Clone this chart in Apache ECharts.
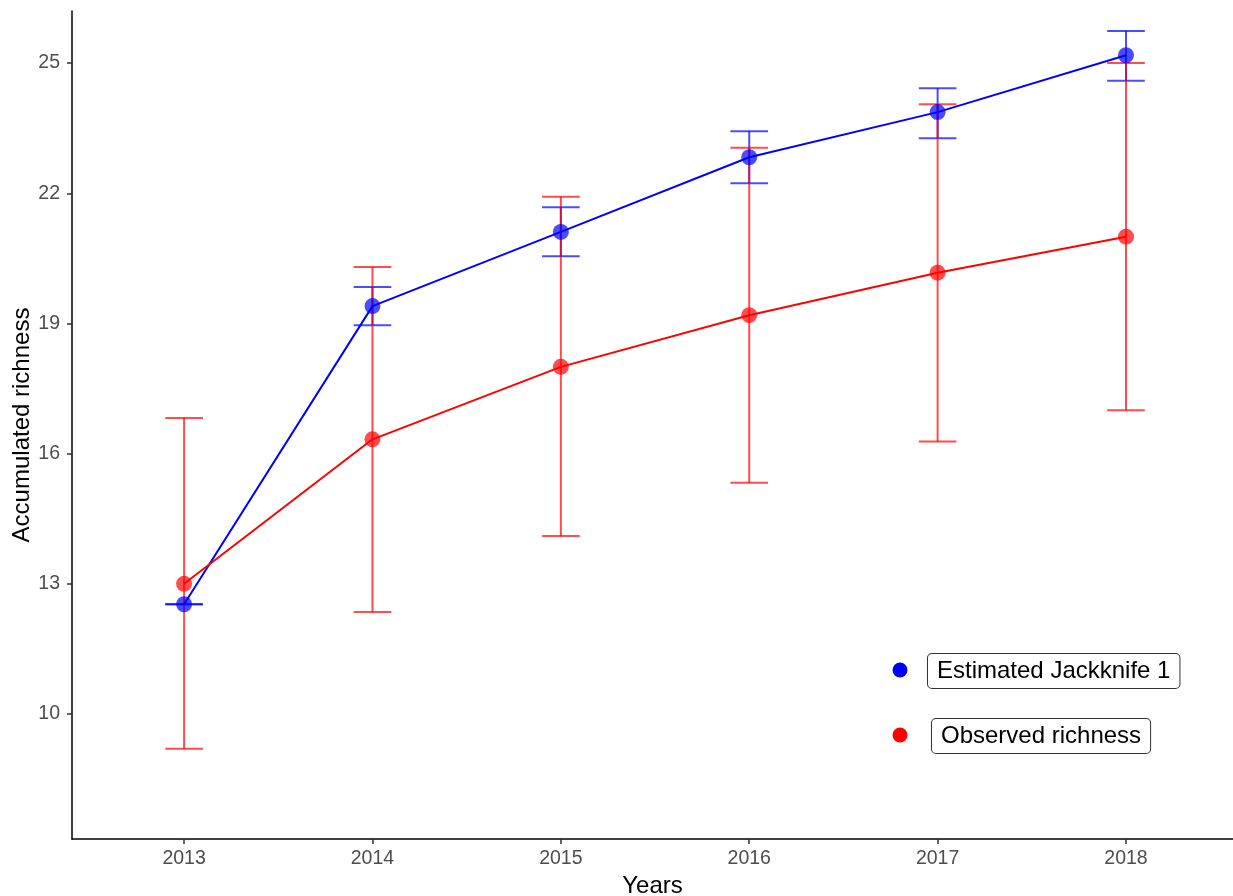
<!DOCTYPE html>
<html>
<head>
<meta charset="utf-8">
<script src="https://cdn.jsdelivr.net/npm/echarts@6/dist/echarts.min.js"></script>
<style>
html,body{margin:0;padding:0;background:#fff;}
#chart{width:1233px;height:896px;}
</style>
</head>
<body>
<div id="chart"></div>
<script>
const years = [2013, 2014, 2015, 2016, 2017, 2018];
const jackknife = [12.53, 19.40, 21.11, 22.83, 23.87, 25.18];
const jackLow = [12.53, 18.96, 20.55, 22.23, 23.27, 24.59];
const jackHigh = [12.53, 19.84, 21.68, 23.43, 24.42, 25.74];
const observed = [13.0, 16.33, 18.0, 19.19, 20.17, 21.0];
const obsLow = [9.2, 12.35, 14.1, 15.33, 16.28, 17.0];
const obsHigh = [16.82, 20.3, 21.92, 23.05, 24.05, 25.0];
const yTicks = [10, 13, 16, 19, 22, 25];
const seriesNames = ['Estimated Jackknife 1', 'Observed richness'];

const FONT = '"Liberation Sans", Arial, sans-serif';
const BLUE = '#0000FF', RED = '#FF0000';

function errData(lo, hi) { return years.map((y, i) => [y, lo[i], hi[i]]); }

function errRender(color) {
  return function (params, api) {
    const x = api.value(0);
    const lo = api.coord([x, api.value(1)]);
    const hi = api.coord([x, api.value(2)]);
    const half = api.size([0.1, 0])[0];
    const style = { stroke: color, lineWidth: 2, opacity: 0.7 };
    return {
      type: 'group',
      children: [
        { type: 'line', shape: { x1: lo[0], y1: lo[1], x2: hi[0], y2: hi[1] }, style },
        { type: 'line', shape: { x1: lo[0] - half, y1: lo[1], x2: lo[0] + half, y2: lo[1] }, style },
        { type: 'line', shape: { x1: hi[0] - half, y1: hi[1], x2: hi[0] + half, y2: hi[1] }, style }
      ]
    };
  };
}

const chart = echarts.init(document.getElementById('chart'), null, { renderer: 'canvas' });
chart.setOption({
  animation: false,
  backgroundColor: '#fff',
  grid: { left: 72, right: 0, top: 11, bottom: 57, containLabel: false, outerBoundsMode: 'none' },
  xAxis: {
    type: 'value', min: 2012.405, max: 2018.568,
    name: 'Years', nameLocation: 'middle', nameGap: 35, nameMoveOverlap: false,
    nameTextStyle: { fontFamily: FONT, fontSize: 24, color: '#000' },
    axisLine: { show: true, lineStyle: { color: '#000', width: 1.5 } },
    axisTick: { show: true, customValues: years, length: 5, lineStyle: { color: '#333', width: 1.5 } },
    axisLabel: { customValues: years, margin: 10, fontFamily: FONT, fontSize: 19.5, color: '#4d4d4d', formatter: v => String(v) },
    splitLine: { show: false }
  },
  yAxis: {
    type: 'value', min: 7.12, max: 26.2,
    name: 'Accumulated richness', nameLocation: 'middle', nameGap: 38, nameRotate: 90, nameMoveOverlap: false,
    nameTextStyle: { fontFamily: FONT, fontSize: 24, color: '#000' },
    axisLine: { show: true, lineStyle: { color: '#000', width: 1.5 } },
    axisTick: { show: true, customValues: yTicks, length: 5, lineStyle: { color: '#333', width: 1.5 } },
    axisLabel: { customValues: yTicks, margin: 12, fontFamily: FONT, fontSize: 19.5, color: '#4d4d4d' },
    splitLine: { show: false }
  },
  series: [
    { type: 'custom', name: seriesNames[0] + ' err', data: errData(jackLow, jackHigh), renderItem: errRender(BLUE), z: 1, silent: true },
    { type: 'custom', name: seriesNames[1] + ' err', data: errData(obsLow, obsHigh), renderItem: errRender(RED), z: 1, silent: true },
    { type: 'line', name: seriesNames[0], data: years.map((y, i) => [y, jackknife[i]]), showSymbol: false, lineStyle: { color: BLUE, width: 2 }, z: 2 },
    { type: 'line', name: seriesNames[1], data: years.map((y, i) => [y, observed[i]]), showSymbol: false, lineStyle: { color: RED, width: 2 }, z: 2 },
    { type: 'scatter', name: seriesNames[0], data: years.map((y, i) => [y, jackknife[i]]), symbolSize: 16, itemStyle: { color: BLUE, opacity: 0.7 }, z: 3 },
    { type: 'scatter', name: seriesNames[1], data: years.map((y, i) => [y, observed[i]]), symbolSize: 16, itemStyle: { color: RED, opacity: 0.7 }, z: 3 }
  ],
  graphic: [
    { type: 'circle', shape: { cx: 900, cy: 670, r: 7.5 }, style: { fill: BLUE } },
    { type: 'text', left: 927, top: 653, style: {
        text: seriesNames[0], font: '24px ' + FONT, fill: '#000',
        backgroundColor: '#fff', borderColor: '#333', borderWidth: 1, borderRadius: 4,
        padding: [3, 9, 3, 9], lineHeight: 28 } },
    { type: 'circle', shape: { cx: 900, cy: 735, r: 7.5 }, style: { fill: RED } },
    { type: 'text', left: 931, top: 718, style: {
        text: seriesNames[1], font: '24px ' + FONT, fill: '#000',
        backgroundColor: '#fff', borderColor: '#333', borderWidth: 1, borderRadius: 4,
        padding: [3, 9, 3, 9], lineHeight: 28 } }
  ]
});
</script>
</body>
</html>
